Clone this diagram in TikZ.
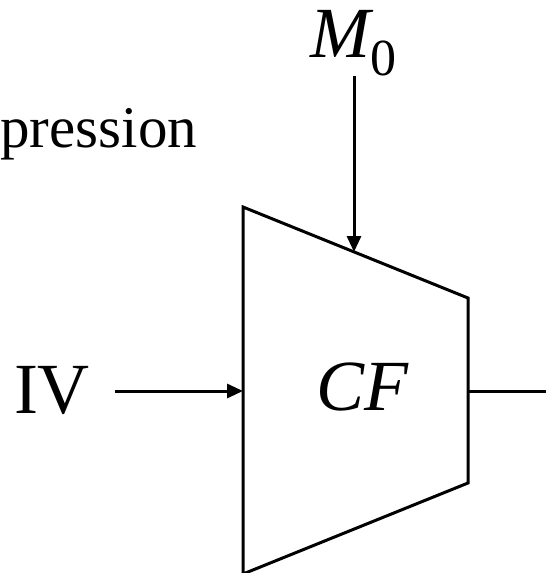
\documentclass[tikz,border=0pt]{standalone}
\usepackage{fontspec}
\setmainfont{Liberation Serif}
\usetikzlibrary{arrows.meta,positioning}
\tikzset{
  lbl/.style={inner sep=0pt,font=\fontsize{36}{40}\selectfont},
  cfbody/.style={draw=black,line width=1.5pt,line join=miter},
  sig/.style={line width=1.5pt,-{Triangle[length=8pt,width=7pt]}},
  sigout/.style={line width=1.5pt},
}

\begin{document}
\begin{tikzpicture}[x=0.5pt,y=-0.5pt]
  \useasboundingbox (0,0) rectangle (546,573);
  % Block corners
  \coordinate (tl) at (243,207);
  \coordinate (tr) at (468,298);
  \coordinate (br) at (468,483);
  \coordinate (bl) at (243,574);
  \draw[cfbody] (tl) -- (tr) -- (br) -- (bl) -- cycle;
  \node[lbl,anchor=base] (cf) at (362,410) {\itshape CF};
  % Ports
  \coordinate (cfin) at (243,391);
  \coordinate (cfout) at (468,391);
  \coordinate (cftop) at (354,252);
  \coordinate (out) at (546,391);
  % Labels
  \node[lbl,inner xsep=12.5pt,anchor=base] (iv) at (52,413) {IV};
  \node[lbl,font=\fontsize{29.5}{34}\selectfont,anchor=base west] (txt)
    at (0,147) {pression};
  \node[lbl,anchor=base west] (m0) at (310,57)
    {\itshape M\raisebox{-9pt}{\fontsize{26}{26}\selectfont\upshape 0}};
  % Signals
  \draw[sig] (iv.east |- cfin) -- (cfin);
  \draw[sig] (m0.south -| cftop) -- (cftop);
  \draw[sigout] (cfout) -- (out);
\end{tikzpicture}
\end{document}
